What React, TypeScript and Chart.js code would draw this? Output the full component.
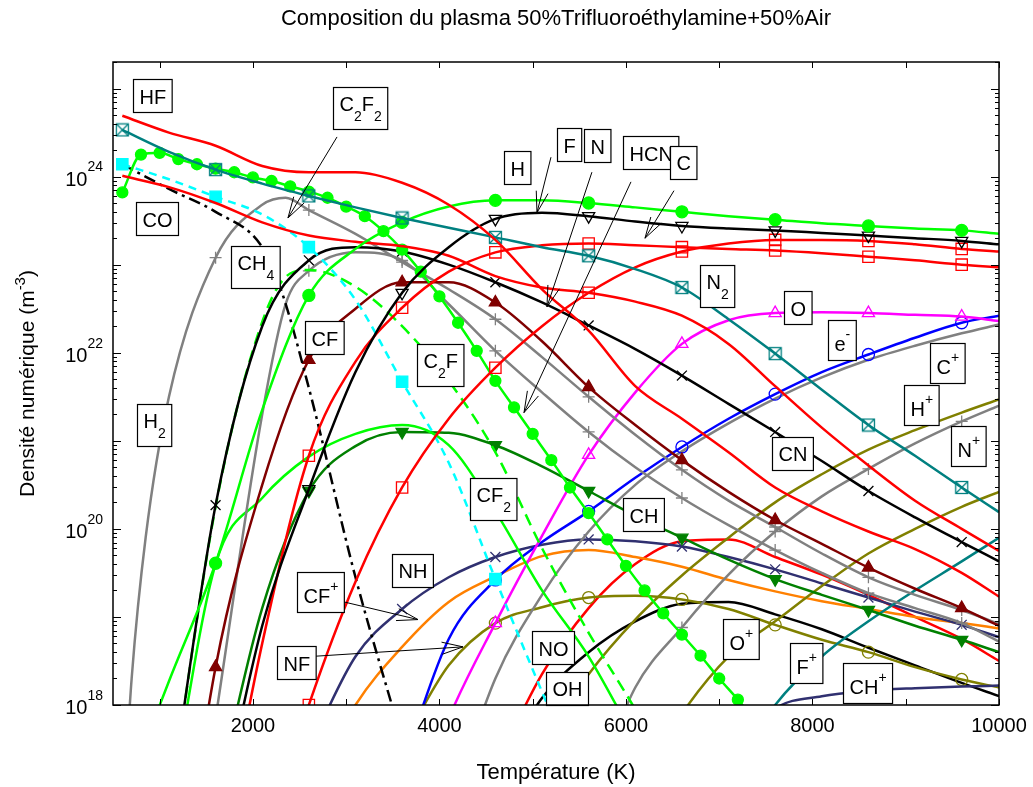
import React, { useEffect, useRef } from "react";
import { Chart, registerables } from "chart.js";

Chart.register(...registerables);

type Pt = [number, number];

// ---------- axes ----------
const T_MIN = 500;
const T_MAX = 10000;
const N_MIN = 1e18;
const N_MAX = 2e25;
const X_TICKS = [1000, 2000, 3000, 4000, 5000, 6000, 7000, 8000, 9000, 10000];
const X_TICK_LABELS = [2000, 4000, 6000, 8000, 10000];
const Y_DECADES = [18, 19, 20, 21, 22, 23, 24, 25];
const Y_TICK_LABELS = [18, 20, 22, 24];
const MARKER_TEMPS = [600, 1600, 2600, 3600, 4600, 5600, 6600, 7600, 8600, 9600];

// ---------- series (temperature K, density m^-3) ----------
const HF: Pt[] = [[600,4.90e24],[1100,3.16e24],[1600,2.24e24],[2100,1.32e24],[2600,1.12e24],[3100,1.12e24],[3600,8.51e23],[4100,4.79e23],[4600,1.91e23],[5100,5.25e22],[5600,1.78e22],[6100,4.17e21],[6600,1.78e21],[7100,7.41e20],[7600,2.95e20],[8100,1.58e20],[8600,9.33e19],[9100,5.89e19],[9600,3.16e19],[10000,1.70e19]];
const CO: Pt[] = [[600,1.02e24],[1100,7.59e23],[1600,5.01e23],[2100,3.02e23],[2600,2.14e23],[3100,1.82e23],[3600,1.62e23],[4100,1.26e23],[4600,7.41e22],[5100,5.50e22],[5600,4.79e22],[6100,3.80e22],[6600,2.63e22],[7100,1.26e22],[7600,4.17e21],[8100,1.41e21],[8600,5.25e20],[9100,2.09e20],[9600,1.00e20],[10000,5.62e19]];
const N2: Pt[] = [[600,3.39e24],[1100,1.91e24],[1600,1.20e24],[2100,8.32e23],[2600,6.03e23],[3100,4.47e23],[3600,3.39e23],[4100,2.63e23],[4600,2.04e23],[5100,1.58e23],[5600,1.26e23],[6100,8.91e22],[6600,5.50e22],[7100,2.40e22],[7600,9.77e21],[8100,3.80e21],[8600,1.51e21],[9100,6.76e20],[9600,2.95e20],[10000,1.55e20]];
const H: Pt[] = [[800,2.82e17],[1100,1.86e18],[1600,4.07e19],[2100,2.24e21],[2600,4.47e22],[3100,1.51e23],[3600,3.02e23],[4100,4.57e23],[4600,5.37e23],[5100,5.37e23],[5600,5.01e23],[6100,4.47e23],[6600,3.98e23],[7100,3.55e23],[7600,3.24e23],[8100,2.95e23],[8600,2.75e23],[9100,2.57e23],[9600,2.45e23],[10000,2.24e23]];
const HCN: Pt[] = [[600,6.61e23],[800,1.78e24],[1000,1.86e24],[1200,1.58e24],[1400,1.38e24],[1600,1.23e24],[1800,1.12e24],[2000,9.77e23],[2200,8.91e23],[2400,7.76e23],[2600,6.76e23],[2800,5.75e23],[3000,4.57e23],[3200,3.55e23],[3400,2.40e23],[3600,1.48e23],[3800,8.32e22],[4000,4.37e22],[4200,2.19e22],[4400,1.05e22],[4600,4.79e21],[4800,2.40e21],[5000,1.20e21],[5200,6.03e20],[5400,2.95e20],[5600,1.51e20],[5800,7.59e19],[6000,3.80e19],[6200,2.00e19],[6400,1.10e19],[6600,6.31e18],[6800,3.63e18],[7000,2.00e18],[7200,1.15e18],[7400,6.31e17]];
const C2F2: Pt[] = [[600,1.38e24],[1100,9.33e23],[1600,5.89e23],[2100,3.72e23],[2600,1.58e23],[3100,3.98e22],[3600,4.68e21],[4100,5.62e20],[4600,2.69e19],[5100,1.41e18],[5600,7.94e16]];
const CH4: Pt[] = [[600,1.38e24],[1100,7.24e23],[1600,3.98e23],[2100,1.58e23],[2300,5.25e22],[2600,3.98e21],[3100,2.82e19],[3600,3.98e17]];
const H2: Pt[] = [[600,3.98e16],[700,2.00e18],[850,7.94e19],[1100,3.16e21],[1600,1.20e23],[2100,4.79e23],[2350,5.75e23],[2600,4.17e23],[3100,2.24e23],[3600,1.07e23],[4100,5.25e22],[4600,2.40e22],[5100,8.91e21],[5600,3.16e21],[6100,1.17e21],[6600,4.68e20],[7100,2.09e20],[7600,1.05e20],[8100,5.25e19],[8600,2.82e19],[9100,1.78e19],[9600,1.20e19],[10000,8.32e18]];
const GRAY2: Pt[] = [[1600,7.08e17],[2100,2.00e21],[2350,3.55e22],[2600,8.51e22],[3100,1.38e23],[3600,1.12e23],[4100,3.55e22],[4600,1.05e22],[5100,3.55e21],[5600,1.26e21],[6100,5.01e20],[6600,2.24e20],[7100,1.10e20],[7600,5.75e19],[8100,3.16e19],[8600,1.86e19],[9100,1.26e19],[9600,8.51e18],[10000,5.25e18]];
const CF: Pt[] = [[1100,1.0e15],[1600,2.69e18],[2100,3.16e20],[2600,8.32e21],[3100,3.16e22],[3600,6.31e22],[4100,6.31e22],[4600,3.72e22],[5100,1.35e22],[5600,4.07e21],[6100,1.51e21],[6600,6.03e20],[7100,2.63e20],[7600,1.26e20],[8100,6.76e19],[8600,3.63e19],[9100,2.09e19],[9600,1.26e19],[10000,7.94e18]];
const C2F: Pt[] = [[1100,6.31e16],[1600,1.78e20],[2100,2.24e22],[2400,7.94e22],[2600,8.71e22],[3100,5.62e22],[3600,2.00e22],[4100,4.79e21],[4600,7.41e20],[5100,6.03e19],[5600,6.61e18],[6100,8.91e17],[6600,1.0e17]];
const CF2: Pt[] = [[1100,6.31e16],[1600,3.98e19],[2100,2.24e20],[2600,6.61e20],[3100,1.20e21],[3600,1.51e21],[4100,8.91e20],[4600,1.58e20],[5100,2.00e19],[5600,3.55e18],[6100,3.98e17]];
const F: Pt[] = [[1600,3.16e16],[2100,7.94e18],[2600,2.82e20],[3100,6.03e21],[3600,4.79e22],[4100,1.58e23],[4600,3.31e23],[5100,3.89e23],[5600,3.55e23],[6100,3.09e23],[6600,2.75e23],[7100,2.57e23],[7600,2.45e23],[8100,2.29e23],[8600,2.14e23],[9100,2.00e23],[9600,1.86e23],[10000,1.70e23]];
const N: Pt[] = [[2100,2.0e16],[2600,1.0e18],[3100,2.51e19],[3600,2.95e20],[4100,1.78e21],[4600,6.76e21],[5100,2.00e22],[5600,4.79e22],[6100,9.33e22],[6600,1.41e23],[7100,1.74e23],[7600,1.91e23],[8100,1.91e23],[8600,1.86e23],[9100,1.70e23],[9600,1.51e23],[10000,1.41e23]];
const C: Pt[] = [[1600,1.0e16],[2100,5.01e18],[2600,6.76e20],[3100,7.94e21],[3600,3.24e22],[4100,8.32e22],[4600,1.38e23],[5100,1.66e23],[5600,1.74e23],[6100,1.66e23],[6600,1.58e23],[7100,1.51e23],[7600,1.45e23],[8100,1.35e23],[8600,1.23e23],[9100,1.12e23],[9600,1.00e23],[10000,9.33e22]];
const O: Pt[] = [[3600,2.51e16],[4100,7.08e17],[4600,8.51e18],[5100,8.32e19],[5600,6.92e20],[6100,3.55e21],[6600,1.26e22],[7100,2.34e22],[7600,2.82e22],[8100,2.88e22],[8600,2.82e22],[9100,2.69e22],[9600,2.57e22],[10000,2.29e22]];
const ELEC: Pt[] = [[3600,2.0e17],[4100,5.62e18],[4600,2.63e19],[5100,7.08e19],[5600,1.58e20],[6100,3.80e20],[6600,8.51e20],[7100,1.78e21],[7600,3.39e21],[8100,6.03e21],[8600,9.55e21],[9100,1.48e22],[9600,2.19e22],[10000,2.63e22]];
const C_ION: Pt[] = [[4100,6.31e16],[4600,2.0e18],[5100,1.78e19],[5600,9.33e19],[6100,3.16e20],[6600,7.59e20],[7100,1.58e21],[7600,3.02e21],[8100,5.25e21],[8600,8.32e21],[9100,1.20e22],[9600,1.66e22],[10000,2.09e22]];
const H_ION: Pt[] = [[5100,3.55e17],[5600,2.24e18],[6100,9.33e18],[6600,2.95e19],[7100,7.94e19],[7600,2.00e20],[8100,4.17e20],[8600,7.94e20],[9100,1.32e21],[9600,2.09e21],[10000,2.95e21]];
const N_ION: Pt[] = [[5600,7.94e16],[6100,1.58e18],[6600,7.59e18],[7100,3.02e19],[7600,9.33e19],[8100,2.34e20],[8600,4.79e20],[9100,9.33e20],[9600,1.66e21],[10000,2.51e21]];
const O_ION: Pt[] = [[6100,1.0e17],[6600,7.94e17],[7100,3.55e18],[7600,8.91e18],[8100,2.24e19],[8600,5.25e19],[9100,1.00e20],[9600,1.78e20],[10000,2.63e20]];
const F_ION: Pt[] = [[7100,1.58e17],[7600,1.0e18],[8100,3.55e18],[8600,8.91e18],[9100,2.00e19],[9600,4.27e19],[10000,7.94e19]];
const CH_ION: Pt[] = [[7100,2.51e17],[7600,9.12e17],[8100,1.26e18],[8600,1.45e18],[9100,1.55e18],[9600,1.62e18],[10000,1.66e18]];
const CN: Pt[] = [[1100,6.31e16],[1600,1.86e20],[2100,2.00e22],[2600,1.12e23],[3100,1.58e23],[3600,1.41e23],[4100,1.00e23],[4600,6.31e22],[5100,3.72e22],[5600,2.04e22],[6100,1.10e22],[6600,5.50e21],[7100,2.63e21],[7600,1.26e21],[8100,5.89e20],[8600,2.69e20],[9100,1.35e20],[9600,7.08e19],[10000,4.27e19]];
const CH: Pt[] = [[1600,7.94e16],[2100,1.26e19],[2600,2.69e20],[3100,8.71e20],[3600,1.26e21],[4100,1.23e21],[4600,8.91e20],[5100,5.13e20],[5600,2.69e20],[6100,1.41e20],[6600,7.94e19],[7100,4.47e19],[7600,2.69e19],[8100,1.78e19],[8600,1.20e19],[9100,7.94e18],[9600,5.50e18],[10000,3.98e18]];
const NH: Pt[] = [[2600,3.16e17],[3100,3.55e18],[3600,1.23e19],[4100,2.82e19],[4600,4.79e19],[5100,6.61e19],[5600,7.59e19],[6100,7.24e19],[6600,6.31e19],[7100,4.79e19],[7600,3.47e19],[8100,2.40e19],[8600,1.66e19],[9100,1.15e19],[9600,8.13e18],[10000,5.89e18]];
const CF_ION: Pt[] = [[2600,1.0e17],[3100,1.0e18],[3600,4.57e18],[4100,1.48e19],[4600,2.88e19],[5100,4.90e19],[5600,5.75e19],[6100,4.79e19],[6600,3.72e19],[7100,2.63e19],[7600,1.95e19],[8100,1.51e19],[8600,1.23e19],[9100,1.00e19],[9600,8.51e18],[10000,7.41e18]];
const NF: Pt[] = [[3600,3.55e17],[4100,2.82e18],[4600,8.51e18],[5100,1.29e19],[5600,1.66e19],[6100,1.74e19],[6600,1.58e19],[7100,1.23e19],[7600,8.13e18],[8100,5.50e18],[8600,3.98e18],[9100,2.69e18],[9600,1.95e18],[10000,1.58e18]];
const NO: Pt[] = [[4600,2.0e17],[5100,2.24e18],[5600,1.26e19],[6100,3.98e19],[6600,7.24e19],[7100,7.59e19],[7600,4.79e19],[8100,3.02e19],[8600,1.78e19],[9100,1.00e19],[9600,5.62e18],[10000,3.16e18]];
const OH: Pt[] = [[4600,1.58e17],[5100,1.20e18],[5600,3.98e18],[6100,8.91e18],[6600,1.41e19],[7100,1.48e19],[7600,1.07e19],[8100,7.24e18],[8600,4.47e18],[9100,2.82e18],[9600,1.78e18],[10000,1.26e18]];

// ---------- styles ----------
const RED = "#ff0000", TEAL = "#008080", LIME = "#00ff00", BLACK = "#000000", GRAY = "#808080",
  MAROON = "#800000", GREEN = "#008000", NAVY = "#303070", ORANGE = "#ff8000", OLIVE = "#808000",
  MAGENTA = "#ff00ff", BLUE = "#0000ff", CYAN = "#00ffff";

type Marker = { style: string; r: number; fill: boolean; rot?: number; every?: boolean };
type Series = { name: string; data: Pt[]; color: string; dash?: number[]; marker?: Marker };

const SERIES: Series[] = [
  { name: "HF", data: HF, color: RED },
  { name: "N2", data: N2, color: TEAL, marker: { style: "boxx", r: 7, fill: false } },
  { name: "H", data: H, color: LIME, marker: { style: "circle", r: 6, fill: true } },
  { name: "F", data: F, color: BLACK, marker: { style: "triangle", r: 7, fill: false, rot: 180 } },
  { name: "N", data: N, color: RED, marker: { style: "rect", r: 8, fill: false } },
  { name: "C", data: C, color: RED, marker: { style: "rect", r: 8, fill: false } },
  { name: "CO", data: CO, color: RED },
  { name: "HCN", data: HCN, color: LIME, marker: { style: "circle", r: 5.5, fill: true, every: true } },
  { name: "C2F2", data: C2F2, color: CYAN, dash: [8, 6], marker: { style: "rect", r: 8, fill: true } },
  { name: "CH4", data: CH4, color: BLACK, dash: [12, 5, 3, 5] },
  { name: "CN", data: CN, color: BLACK, marker: { style: "crossRot", r: 7, fill: false } },
  { name: "C2F", data: C2F, color: LIME, dash: [12, 7] },
  { name: "CF", data: CF, color: MAROON, marker: { style: "triangle", r: 7, fill: true } },
  { name: "H2", data: H2, color: GRAY, marker: { style: "cross", r: 6, fill: false } },
  { name: "G2", data: GRAY2, color: GRAY, marker: { style: "cross", r: 6, fill: false } },
  { name: "CF2", data: CF2, color: LIME },
  { name: "CH", data: CH, color: GREEN, marker: { style: "triangle", r: 7, fill: true, rot: 180 } },
  { name: "O", data: O, color: MAGENTA, marker: { style: "triangle", r: 7, fill: false } },
  { name: "e-", data: ELEC, color: BLUE, marker: { style: "circle", r: 6, fill: false } },
  { name: "C+", data: C_ION, color: GRAY },
  { name: "N+", data: N_ION, color: GRAY, marker: { style: "cross", r: 6, fill: false } },
  { name: "H+", data: H_ION, color: OLIVE },
  { name: "O+", data: O_ION, color: OLIVE },
  { name: "F+", data: F_ION, color: TEAL },
  { name: "CH+", data: CH_ION, color: NAVY },
  { name: "NH", data: NH, color: NAVY, marker: { style: "crossRot", r: 7, fill: false } },
  { name: "CF+", data: CF_ION, color: ORANGE },
  { name: "NF", data: NF, color: OLIVE, marker: { style: "circle", r: 6, fill: false } },
  { name: "NO", data: NO, color: RED },
  { name: "OH", data: OH, color: BLACK },
];

// ---------- annotations (position: temperature, log10 density) ----------
type Part = [string, number]; // 0 normal, 1 subscript, 2 superscript
const LABELS: { parts: Part[]; t: number; e: number }[] = [
  { parts: [["HF", 0]], t: 918, e: 24.92 },
  { parts: [["CO", 0]], t: 972, e: 23.52 },
  { parts: [["C", 0], ["2", 1], ["F", 0], ["2", 1]], t: 3148, e: 24.78 },
  { parts: [["CH", 0], ["4", 1]], t: 2022, e: 22.97 },
  { parts: [["H", 0], ["2", 1]], t: 940, e: 21.18 },
  { parts: [["CF", 0]], t: 2762, e: 22.17 },
  { parts: [["C", 0], ["2", 1], ["F", 0]], t: 4006, e: 21.86 },
  { parts: [["CF", 0], ["2", 1]], t: 4574, e: 20.34 },
  { parts: [["H", 0]], t: 4831, e: 24.1 },
  { parts: [["F", 0]], t: 5389, e: 24.36 },
  { parts: [["N", 0]], t: 5689, e: 24.35 },
  { parts: [["HCN", 0]], t: 6268, e: 24.27 },
  { parts: [["C", 0]], t: 6611, e: 24.16 },
  { parts: [["N", 0], ["2", 1]], t: 6976, e: 22.76 },
  { parts: [["O", 0]], t: 7844, e: 22.51 },
  { parts: [["e", 0], ["-", 2]], t: 8316, e: 22.15 },
  { parts: [["C", 0], ["+", 2]], t: 9442, e: 21.88 },
  { parts: [["H", 0], ["+", 2]], t: 9163, e: 21.41 },
  { parts: [["N", 0], ["+", 2]], t: 9667, e: 20.94 },
  { parts: [["CN", 0]], t: 7780, e: 20.86 },
  { parts: [["CH", 0]], t: 6183, e: 20.16 },
  { parts: [["NH", 0]], t: 3706, e: 19.53 },
  { parts: [["CF", 0], ["+", 2]], t: 2719, e: 19.28 },
  { parts: [["NF", 0]], t: 2462, e: 18.48 },
  { parts: [["NO", 0]], t: 5218, e: 18.65 },
  { parts: [["OH", 0]], t: 5368, e: 18.19 },
  { parts: [["O", 0], ["+", 2]], t: 7233, e: 18.75 },
  { parts: [["F", 0], ["+", 2]], t: 7930, e: 18.48 },
  { parts: [["CH", 0], ["+", 2]], t: 8595, e: 18.25 },
];

const ARROWS: { from: Pt; to: Pt }[] = [
  { from: [2902, 24.45], to: [2376, 23.53] },
  { from: [5196, 24.22], to: [5046, 23.59] },
  { from: [5635, 24.05], to: [5153, 22.52] },
  { from: [6054, 23.94], to: [4907, 21.32] },
  { from: [6515, 23.84], to: [6204, 23.3] },
  { from: [2859, 19.2], to: [3770, 18.97] },
  { from: [2612, 18.55], to: [4253, 18.66] },
];

const FONT = '"Liberation Sans", Arial, Helvetica, sans-serif';

function makeBoxX(color: string): HTMLCanvasElement {
  const c = document.createElement("canvas");
  c.width = 15;
  c.height = 15;
  const g = c.getContext("2d")!;
  g.strokeStyle = color;
  g.lineWidth = 1.3;
  g.strokeRect(1.5, 1.5, 12, 12);
  g.beginPath();
  g.moveTo(1.5, 1.5);
  g.lineTo(13.5, 13.5);
  g.moveTo(13.5, 1.5);
  g.lineTo(1.5, 13.5);
  g.stroke();
  return c;
}

function drawParts(ctx: CanvasRenderingContext2D, parts: Part[], x0: number, base: number, big: number, small: number) {
  let x = x0;
  for (const [t, k] of parts) {
    ctx.font = `${k ? small : big}px ${FONT}`;
    const dy = k === 1 ? 10 : k === 2 ? -12 : 0;
    ctx.fillText(t, x, base + dy);
    x += ctx.measureText(t).width;
  }
}

function partsWidth(ctx: CanvasRenderingContext2D, parts: Part[], big: number, small: number) {
  let w = 0;
  for (const [t, k] of parts) {
    ctx.font = `${k ? small : big}px ${FONT}`;
    w += ctx.measureText(t).width;
  }
  return w;
}

const decor = {
  id: "decor",
  beforeDraw(chart: any) {
    const ctx = chart.ctx as CanvasRenderingContext2D;
    ctx.save();
    ctx.fillStyle = "#fff";
    ctx.fillRect(0, 0, chart.width, chart.height);
    ctx.restore();
  },
  afterDraw(chart: any) {
    const ctx = chart.ctx as CanvasRenderingContext2D;
    const a = chart.chartArea;
    const xs = chart.scales.x;
    const ys = chart.scales.y;
    const px = (t: number) => xs.getPixelForValue(t);
    const py = (e: number) => ys.getPixelForValue(Math.pow(10, e));
    ctx.save();
    ctx.textAlign = "left";
    ctx.textBaseline = "alphabetic";

    // arrows
    ctx.strokeStyle = "#000";
    ctx.lineWidth = 1;
    for (const ar of ARROWS) {
      const x1 = px(ar.from[0]), y1 = py(ar.from[1]);
      const x2 = px(ar.to[0]), y2 = py(ar.to[1]);
      const ang = Math.atan2(y1 - y2, x1 - x2);
      const L = 22, h = (16 * Math.PI) / 180;
      ctx.beginPath();
      ctx.moveTo(x1, y1);
      ctx.lineTo(x2, y2);
      ctx.moveTo(x2 + L * Math.cos(ang + h), y2 + L * Math.sin(ang + h));
      ctx.lineTo(x2, y2);
      ctx.lineTo(x2 + L * Math.cos(ang - h), y2 + L * Math.sin(ang - h));
      ctx.stroke();
    }

    // label boxes
    for (const lb of LABELS) {
      const cx = px(lb.t), cy = py(lb.e);
      const hasSub = lb.parts.some((p) => p[1] === 1);
      const hasSup = lb.parts.some((p) => p[1] === 2);
      const h = hasSub ? 42 : hasSup ? 40 : 33;
      const w = partsWidth(ctx, lb.parts, 20, 14) + 12;
      const bx = Math.round(cx - w / 2) + 0.5, by = Math.round(cy - h / 2) + 0.5;
      ctx.fillStyle = "#fff";
      ctx.fillRect(bx, by, w, h);
      ctx.strokeStyle = "#000";
      ctx.lineWidth = 1.2;
      ctx.strokeRect(bx, by, w, h);
      ctx.fillStyle = "#000";
      const base = hasSub ? cy + 3 : hasSup ? cy + 11 : cy + 8;
      drawParts(ctx, lb.parts, bx + 6, base, 20, 14);
    }

    // frame
    ctx.strokeStyle = "#000";
    ctx.lineWidth = 1.5;
    ctx.strokeRect(a.left, a.top, a.right - a.left, a.bottom - a.top);

    // x ticks
    ctx.lineWidth = 1;
    ctx.beginPath();
    for (const t of X_TICKS) {
      const x = Math.round(px(t)) + 0.5;
      ctx.moveTo(x, a.bottom);
      ctx.lineTo(x, a.bottom - 6);
      ctx.moveTo(x, a.top);
      ctx.lineTo(x, a.top + 6);
    }
    // y ticks
    for (const d of Y_DECADES) {
      for (let m = 1; m <= 9; m++) {
        const v = m * Math.pow(10, d);
        if (v < N_MIN || v > N_MAX) continue;
        const y = Math.round(ys.getPixelForValue(v)) + 0.5;
        const len = m === 1 ? 8 : 4;
        ctx.moveTo(a.left, y);
        ctx.lineTo(a.left + len, y);
        ctx.moveTo(a.right, y);
        ctx.lineTo(a.right - len, y);
      }
    }
    ctx.stroke();

    // tick labels
    ctx.fillStyle = "#000";
    ctx.font = `20px ${FONT}`;
    ctx.textAlign = "center";
    ctx.textBaseline = "middle";
    for (const t of X_TICK_LABELS) {
      ctx.fillText(String(t), px(t), a.bottom + 21);
    }
    ctx.textAlign = "left";
    for (const d of Y_TICK_LABELS) {
      const y = ys.getPixelForValue(Math.pow(10, d));
      ctx.font = `14px ${FONT}`;
      const sw = ctx.measureText(String(d)).width;
      ctx.font = `20px ${FONT}`;
      const bw = ctx.measureText("10").width;
      const right = a.left - 10;
      ctx.fillText("10", right - sw - bw, y + 3.5);
      ctx.font = `14px ${FONT}`;
      ctx.fillText(String(d), right - sw, y - 9);
    }

    // titles
    const midX = (a.left + a.right) / 2;
    ctx.textAlign = "center";
    ctx.font = `22px ${FONT}`;
    ctx.fillText("Composition du plasma 50%Trifluoroéthylamine+50%Air", midX, 19);
    ctx.fillText("Température (K)", midX, 773);

    // y title (rotated)
    const yparts: Part[] = [["Densité numérique (m", 0], ["-3", 2], [")", 0]];
    ctx.save();
    ctx.translate(26, (a.top + a.bottom) / 2);
    ctx.rotate(-Math.PI / 2);
    ctx.textAlign = "left";
    ctx.textBaseline = "alphabetic";
    const tw = partsWidth(ctx, yparts, 21, 15);
    let xx = -tw / 2;
    for (const [t, k] of yparts) {
      ctx.font = `${k ? 15 : 21}px ${FONT}`;
      ctx.fillText(t, xx, k === 2 ? -1 : 8);
      xx += ctx.measureText(t).width;
    }
    ctx.restore();

    ctx.restore();
  },
};

export default function App() {
  const ref = useRef<HTMLCanvasElement | null>(null);

  useEffect(() => {
    if (!ref.current) return;
    const boxx = makeBoxX(TEAL);
    const datasets = SERIES.map((s) => {
      const mk = s.marker;
      return {
        label: s.name,
        data: s.data.map(([x, y]) => ({ x, y })),
        borderColor: s.color,
        backgroundColor: s.color,
        borderWidth: 2.5,
        borderDash: s.dash || [],
        cubicInterpolationMode: "monotone" as const,
        fill: false,
        pointStyle: mk ? (mk.style === "boxx" ? boxx : mk.style) : "circle",
        rotation: mk?.rot ?? 0,
        pointRadius: (ctx: any) => {
          if (!mk) return 0;
          const raw = ctx.raw as { x: number } | undefined;
          if (!raw) return 0;
          if (mk.every) return mk.r;
          return MARKER_TEMPS.includes(raw.x) ? mk.r : 0;
        },
        pointHoverRadius: 0,
        pointHitRadius: 0,
        pointBorderColor: s.color,
        pointBackgroundColor: mk && mk.fill ? s.color : "rgba(0,0,0,0)",
        pointBorderWidth: 1.3,
      };
    });

    const chart = new Chart(ref.current, {
      type: "line",
      data: { datasets: datasets as any },
      options: {
        responsive: false,
        animation: false,
        events: [],
        layout: { padding: { left: 113, top: 62, right: 34, bottom: 82 } },
        plugins: {
          legend: { display: false },
          tooltip: { enabled: false },
          title: { display: false },
        },
        scales: {
          x: { type: "linear", min: T_MIN, max: T_MAX, display: false },
          y: { type: "logarithmic", min: N_MIN, max: N_MAX, display: false },
        },
      },
      plugins: [decor],
    });
    return () => chart.destroy();
  }, []);

  return (
    <div style={{ position: "absolute", left: 0, top: 0, width: 1033, height: 787, background: "#fff" }}>
      <canvas ref={ref} width={1033} height={787} style={{ display: "block", width: 1033, height: 787 }} />
    </div>
  );
}
